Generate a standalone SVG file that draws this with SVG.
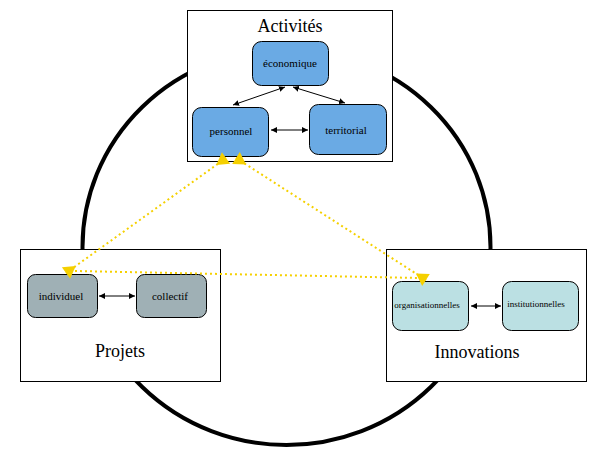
<svg xmlns="http://www.w3.org/2000/svg" width="605" height="454" viewBox="0 0 605 454">
<style>
.box{fill:#fff;stroke:#000;stroke-width:1}
.title{font-family:"Liberation Serif",serif;font-size:18px;fill:#000;text-anchor:middle}
.lbl{font-family:"Liberation Serif",serif;font-size:11px;fill:#000;text-anchor:middle}
.sm{font-family:"Liberation Serif",serif;font-size:9px;fill:#000;text-anchor:middle}
.blue{fill:#6aaae4;stroke:#000;stroke-width:1}
.grey{fill:#9fb0b5;stroke:#000;stroke-width:1}
.cyan{fill:#bbe0e3;stroke:#000;stroke-width:1}
.blk{stroke:#000;stroke-width:1;fill:none;marker-start:url(#ah);marker-end:url(#ah)}
.yel{stroke:#f5d000;stroke-width:2;fill:none;stroke-dasharray:2 3}
.yelA{marker-start:url(#ya);marker-end:url(#ya)}
</style>
<defs>
<marker id="ah" markerUnits="userSpaceOnUse" markerWidth="7" markerHeight="6" refX="6" refY="3" orient="auto-start-reverse"><path d="M0,0 L6,3 L0,6 z" fill="#000"/></marker>
<marker id="ya" markerUnits="userSpaceOnUse" markerWidth="16" markerHeight="16" refX="13" refY="8" orient="auto-start-reverse" viewBox="0 0 16 16"><path d="M13,1 L13,15 L1,8 z" fill="#f5d000"/></marker>
</defs>
<ellipse cx="286.5" cy="247" rx="204" ry="198" fill="none" stroke="#000" stroke-width="4"/>
<g id="activites">
<rect class="box" x="187.5" y="10.5" width="205" height="151"/>
<text class="title" x="290" y="32">Activités</text>
</g>
<g id="economique">
<rect class="blue" x="252.5" y="41.5" width="76" height="44" rx="9"/>
<text class="lbl" x="290" y="67">économique</text>
</g>
<g id="personnel">
<rect class="blue" x="192.5" y="107.5" width="76" height="49" rx="9"/>
<text class="lbl" x="231" y="135">personnel</text>
</g>
<g id="territorial">
<rect class="blue" x="309.5" y="104.5" width="77" height="50" rx="9"/>
<text class="lbl" x="346" y="134">territorial</text>
</g>
<g id="projets">
<rect class="box" x="20.5" y="249.5" width="200" height="132"/>
<text class="title" x="120" y="357">Projets</text>
</g>
<g id="individuel">
<rect class="grey" x="27.5" y="274.5" width="70" height="43" rx="8"/>
<text class="lbl" x="61" y="300">individuel</text>
</g>
<g id="collectif">
<rect class="grey" x="136.5" y="274.5" width="70" height="43" rx="8"/>
<text class="lbl" x="170" y="300">collectif</text>
</g>
<g id="innovations">
<rect class="box" x="386.5" y="249.5" width="200" height="132"/>
<text class="title" x="477" y="358">Innovations</text>
</g>
<g id="organisationnelles">
<rect class="cyan" x="392.5" y="281.5" width="76" height="49" rx="9"/>
<text class="sm" x="427" y="308">organisationnelles</text>
</g>
<g id="institutionnelles">
<rect class="cyan" x="502.5" y="281.5" width="76" height="49" rx="9"/>
<text class="sm" x="536" y="307">institutionnelles</text>
</g>
<g id="connectors">
<line class="blk" x1="285" y1="87" x2="233" y2="105"/>
<line class="blk" x1="293" y1="87" x2="345" y2="103"/>
<line class="blk" x1="271" y1="130" x2="308" y2="130"/>
<line class="blk" x1="99" y1="296" x2="135" y2="296"/>
<line class="blk" x1="471" y1="306" x2="501" y2="306"/>
<line class="yel" x1="75" y1="271" x2="420" y2="278"/>
<line class="yel yelA" x1="226" y1="158" x2="66" y2="273"/>
<line class="yel yelA" x1="236" y1="158" x2="426" y2="280"/>
</g>
</svg>
